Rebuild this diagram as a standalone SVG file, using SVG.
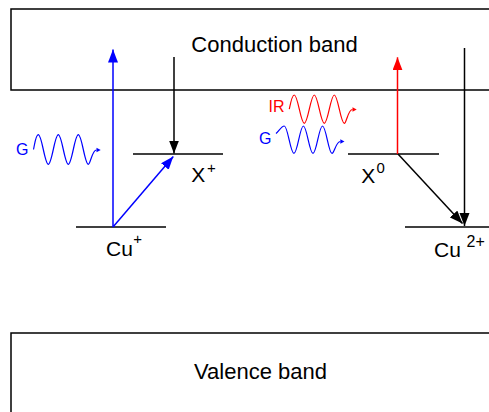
<svg xmlns="http://www.w3.org/2000/svg" width="489" height="412" viewBox="0 0 489 412">
<style>
.band{fill:#fff;stroke:#000;stroke-width:1.5}
.lvl{stroke:#000;stroke-width:1.6;fill:none}
.t{font-family:"Liberation Sans",Arial,sans-serif;fill:#000}
.big{font-size:22px}
.lab{font-size:21px}
.sup{font-size:15px}
.wave{fill:none;stroke-width:1.2}
.ab{stroke:#000;stroke-width:1.5;fill:none}
.abl{stroke:#0000FF;stroke-width:1.5;fill:none}
.ar{stroke:#FF0000;stroke-width:1.5;fill:none}
</style>
<defs>
<marker id="hk" markerUnits="userSpaceOnUse" markerWidth="14" markerHeight="11" refX="13" refY="5" orient="auto"><path d="M0,0 L13,5 L0,10 z" fill="#000"/></marker>
<marker id="hb" markerUnits="userSpaceOnUse" markerWidth="14" markerHeight="11" refX="13" refY="5" orient="auto"><path d="M0,0 L13,5 L0,10 z" fill="#0000FF"/></marker>
<marker id="hr" markerUnits="userSpaceOnUse" markerWidth="14" markerHeight="11" refX="13" refY="5" orient="auto"><path d="M0,0 L13,5 L0,10 z" fill="#FF0000"/></marker>
</defs>
<g id="conduction-band"><rect class="band" x="11" y="9" width="500" height="81"/><text class="t big" x="274.5" y="52" text-anchor="middle">Conduction band</text></g>
<g id="valence-band"><rect class="band" x="11" y="333" width="500" height="100"/><text class="t big" x="260.5" y="379" text-anchor="middle">Valence band</text></g>
<g id="level-xplus"><line class="lvl" x1="133" y1="154" x2="223" y2="154"/><text class="t lab" x="191.3" y="182">X</text><text class="t sup" x="207" y="172.5">+</text></g>
<g id="level-cuplus"><line class="lvl" x1="76" y1="227" x2="166" y2="227"/><text class="t lab" x="106" y="256">Cu</text><text class="t sup" x="133.3" y="244">+</text></g>
<g id="level-x0"><line class="lvl" x1="348" y1="154" x2="439" y2="154"/><text class="t lab" x="361.3" y="183">X</text><text class="t sup" x="376.5" y="173">0</text></g>
<g id="level-cu2plus"><line class="lvl" x1="405" y1="227" x2="489" y2="227"/><text class="t lab" x="434" y="256.5">Cu</text><text class="t" style="font-size:16px" x="466.5" y="247">2+</text></g>
<g id="photon-g-left"><text class="t" style="font-size:16px;fill:#0000FF" x="16" y="154.5">G</text><path class="wave" stroke="#0000FF" d="M33.5,149.5 C35,142 36,134.7 38.3,134.7 C41.9,134.7 44.7,164.3 48.3,164.3 S54.7,134.7 58.3,134.7 S64.7,164.3 68.3,164.3 S74.7,134.7 78.3,134.7 S84.7,164.3 88.3,164.3 C90.5,164.3 92,150 96.5,150"/><path d="M96.5,147.8 L100.7,150 L96.5,152.2 z" fill="#0000FF"/></g>
<g id="photon-ir"><text class="t" style="font-size:16px;fill:#FF0000" x="268.5" y="111.7">IR</text><path class="wave" stroke="#FF0000" d="M289.3,109.2 C290.8,101.8 292,95 294.3,95 C297.9,95 300.7,123.4 304.3,123.4 S310.7,95 314.3,95 S320.7,123.4 324.3,123.4 S330.7,95 334.3,95 S340.7,123.4 344.3,123.4 C346.5,123.4 348,109.5 352.5,109.5"/><path d="M352.5,107.3 L356.7,109.5 L352.5,111.7 z" fill="#FF0000"/></g>
<g id="photon-g-right"><text class="t" style="font-size:16px;fill:#0000FF" x="259" y="143.5">G</text><path class="wave" stroke="#0000FF" d="M276,133.5 C279,131 281.5,126 284.3,126 C287.8,126 290.4,153.4 293.9,153.4 S300,126 303.4,126 S309.5,153.4 313,153.4 S319,126 322.5,126 S328.6,153.4 332,153.4 C334.2,153.4 336,141.5 340.3,141.5"/><path d="M340.3,139.3 L344.5,141.5 L340.3,143.7 z" fill="#0000FF"/></g>
<g id="connectors">
<line class="abl" x1="113" y1="227" x2="113" y2="49.5" marker-end="url(#hb)"/>
<line class="abl" x1="113" y1="227" x2="173.3" y2="156.5" marker-end="url(#hb)"/>
<line class="ab" x1="174" y1="57" x2="174" y2="153.5" marker-end="url(#hk)"/>
<line class="ar" x1="397.5" y1="154" x2="397.5" y2="57.3" marker-end="url(#hr)"/>
<line class="ab" x1="398" y1="154" x2="462.5" y2="223.5" marker-end="url(#hk)"/>
<line class="ab" x1="464.5" y1="48" x2="464.5" y2="226" marker-end="url(#hk)"/>
</g>
</svg>
